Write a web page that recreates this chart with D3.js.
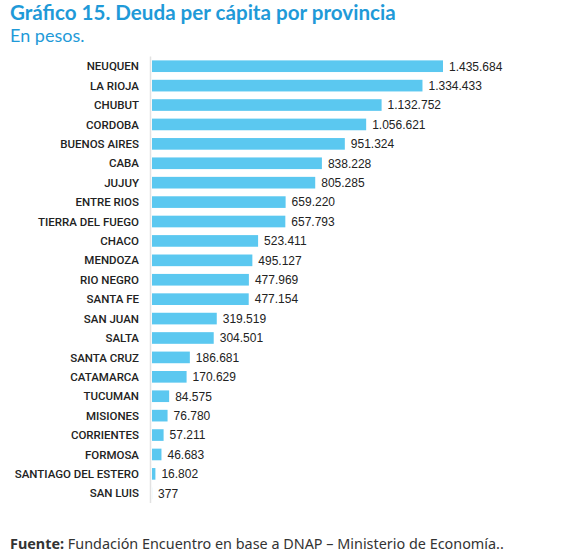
<!DOCTYPE html>
<html>
<head>
<meta charset="utf-8">
<script src="https://cdn.jsdelivr.net/npm/d3@7"></script>
<style>
  body { margin: 0; background: #fff; }
</style>
</head>
<body>
<div class="root"></div>
<script>
const provinces = ['NEUQUEN', 'LA RIOJA', 'CHUBUT', 'CORDOBA', 'BUENOS AIRES', 'CABA', 'JUJUY',
  'ENTRE RIOS', 'TIERRA DEL FUEGO', 'CHACO', 'MENDOZA', 'RIO NEGRO', 'SANTA FE', 'SAN JUAN',
  'SALTA', 'SANTA CRUZ', 'CATAMARCA', 'TUCUMAN', 'MISIONES', 'CORRIENTES', 'FORMOSA',
  'SANTIAGO DEL ESTERO', 'SAN LUIS'];
const debt = [1435684, 1334433, 1132752, 1056621, 951324, 838228, 805285,
  659220, 657793, 523411, 495127, 477969, 477154, 319519,
  304501, 186681, 170629, 84575, 76780, 57211, 46683,
  16802, 377];

const width = 564;
const height = 558;
const margin = { top: 56.5, left: 151, bottom: 55, right: 122 };

const svg = d3.select('.root')
  .append('svg')
  .attr('width', width)
  .attr('height', height);

// titles
svg.append('text')
  .attr('x', 10)
  .attr('y', 20)
  .attr('fill', '#1f9ad8')
  .style('font-family', 'Lato, sans-serif')
  .style('font-weight', 'bold')
  .style('font-size', '20.6px')
  .text('Gráfico 15. Deuda per cápita por provincia');

svg.append('text')
  .attr('x', 10)
  .attr('y', 42)
  .attr('fill', '#1f9ad8')
  .style('font-family', 'Lato, sans-serif')
  .style('font-size', '18px')
  .text('En pesos.');

const data = provinces.map((p, i) => ({ name: p, value: debt[i] }));

const x = d3.scaleLinear()
  .domain([0, d3.max(debt)])
  .range([margin.left, width - margin.right]);

const y = d3.scaleBand()
  .domain(provinces)
  .range([margin.top, height - margin.bottom])
  .paddingInner(0.4)
  .paddingOuter(0.2);

// axis line
svg.append('line')
  .attr('x1', margin.left - 0.5)
  .attr('x2', margin.left - 0.5)
  .attr('y1', margin.top)
  .attr('y2', height - margin.bottom)
  .attr('stroke', '#e2e2e2')
  .attr('stroke-width', 1.5);

svg.selectAll('.bar')
  .data(data)
  .enter()
  .append('rect')
  .attr('class', 'bar')
  .attr('x', x(0) + 1)
  .attr('y', d => y(d.name))
  .attr('width', d => x(d.value) - x(0))
  .attr('height', y.bandwidth())
  .attr('fill', '#5bc8f0');

const fmt = v => v.toString().replace(/\B(?=(\d{3})+(?!\d))/g, '.');

svg.selectAll('.value')
  .data(data)
  .enter()
  .append('text')
  .attr('class', 'value')
  .attr('x', d => x(d.value) + 7)
  .attr('y', d => y(d.name) + y.bandwidth() / 2)
  .attr('dy', '0.36em')
  .attr('fill', '#222')
  .style('font-family', 'Liberation Sans, Arial, sans-serif')
  .style('font-size', '12px')
  .text(d => fmt(d.value));

svg.selectAll('.label')
  .data(data)
  .enter()
  .append('text')
  .attr('class', 'label')
  .attr('x', 139)
  .attr('y', d => y(d.name) + y.bandwidth() / 2)
  .attr('dy', '0.36em')
  .attr('text-anchor', 'end')
  .attr('fill', '#222')
  .style('font-family', 'Roboto, sans-serif')
  .style('font-weight', 500)
  .style('font-size', '11.5px')
  .text(d => d.name);

// source
const src = svg.append('text')
  .attr('x', 10)
  .attr('y', 549)
  .attr('fill', '#333')
  .style('font-family', 'Noto Sans, sans-serif')
  .style('font-size', '14.4px');
src.append('tspan').style('font-weight', 'bold').text('Fuente:');
src.append('tspan').text(' Fundación Encuentro en base a DNAP – Ministerio de Economía..');
</script>
</body>
</html>
